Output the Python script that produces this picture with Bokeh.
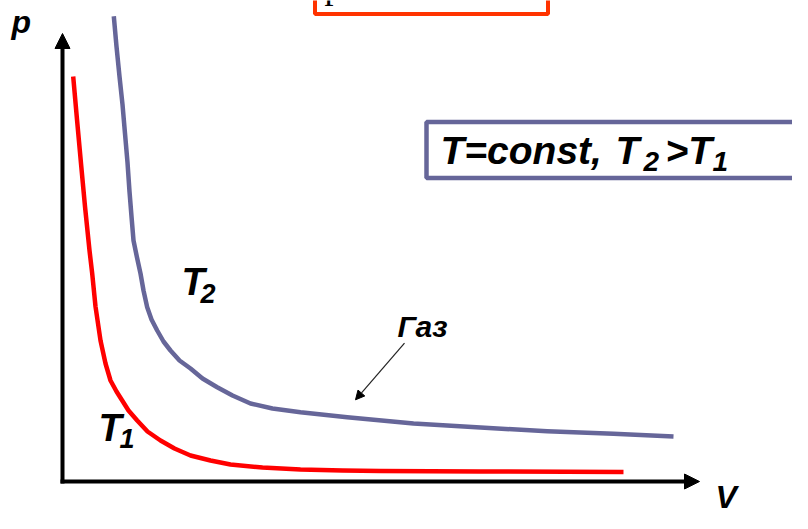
from bokeh.plotting import figure
from bokeh.models import Range1d, Arrow, NormalHead
from bokeh.core.properties import value
from bokeh.embed import file_html
from bokeh.resources import INLINE

# Isotherm T1 (red) - V, p values
v_t1 = [10.7, 14.5, 18.5, 22.5, 27, 29.7, 33, 38, 43, 48, 54, 59.7, 66, 74.7, 85, 98, 112, 128,
        148, 168, 200, 238, 280, 318, 418, 561]
p_t1 = [405, 362, 318, 275, 231, 208, 175, 141, 118, 101, 90, 81, 71, 61, 50, 41, 33, 26,
        21, 17, 14, 12, 11, 10.5, 10, 9.5]

# Isotherm T2 (purple)
v_t2 = [51.3, 54, 57, 60, 62.5, 65, 67, 69, 71, 74.5, 78, 81, 84.7, 89, 94.7, 101, 108, 117, 128,
        140, 154.7, 170, 188, 210, 238, 284.7, 351, 418, 484.7, 551, 611]
p_t2 = [465.3, 435, 405, 377, 348, 319, 290, 265, 241, 224, 208, 191, 174.3, 162, 151, 140, 131,
        121, 113, 103, 94.3, 86, 78, 73, 69.3, 64.3, 58, 54, 50.3, 47.7, 45]

FONT = value("Liberation Sans")
PURPLE = "#666699"

p = figure(width=792, height=513, x_range=Range1d(-62, 730), y_range=Range1d(-32, 481),
           output_backend="svg", toolbar_location=None, min_border=0)
p.axis.visible = False
p.grid.visible = False
p.outline_line_color = None
p.background_fill_color = "white"

def lbl(x, y, t, size, font=FONT, style="bold italic"):
    # small lift so that the drawn baseline lands where the reference's baseline is
    p.text(x=[x], y=[y + 0.31 * size], text=[t], text_font=font, text_font_style=style,
           text_font_size=f"{size}px", text_color="black", text_baseline="alphabetic",
           text_align="left")

# Partially visible red title box at top
p.quad(left=[252.5], right=[485.5], bottom=[467.5], top=[500], fill_color="white",
       line_color="#ff3300", line_width=4)
lbl(262, 484, "pV = const", 36, font=value("Liberation Serif"), style="normal")

# Axes with arrows
p.add_layout(Arrow(end=NormalHead(size=15, fill_color="black", line_color="black"),
                   x_start=0, y_start=-2, x_end=0, y_end=448, line_width=4, line_color="black"))
p.add_layout(Arrow(end=NormalHead(size=15, fill_color="black", line_color="black"),
                   x_start=-2, y_start=0, x_end=637, y_end=0, line_width=4, line_color="black"))

# Curves
p.line(v_t1, p_t1, line_color="#ff0000", line_width=4.5, line_join="round")
p.line(v_t2, p_t2, line_color=PURPLE, line_width=4.5, line_join="round")

# Condition box
p.quad(left=[364], right=[760], bottom=[303.5], top=[359.5], fill_color="white",
       line_color=PURPLE, line_width=4.5)

lbl(378, 319.3, "T=const,", 39)
lbl(553, 319.3, "T", 39)
lbl(581, 311, "2", 28)
lbl(603, 319.3, ">T", 39)
lbl(650, 311, "1", 28)

# Axis labels
lbl(-51, 450, "p", 32)
lbl(653, -25, "V", 32)

# Curve labels
lbl(119, 187.7, "T", 38)
lbl(138, 179.3, "2", 27)
lbl(36, 41.7, "T", 38)
lbl(57, 34.3, "1", 27)
lbl(335, 146, "Газ", 30)

# Pointer arrow to the gas curve
p.add_layout(Arrow(end=NormalHead(size=9, fill_color="black", line_color="black", line_width=1),
                   x_start=342, y_start=138.3, x_end=293, y_end=81.7, line_width=1.2, line_color="#222222"))

open("out.html", "w").write(file_html(p, INLINE))
